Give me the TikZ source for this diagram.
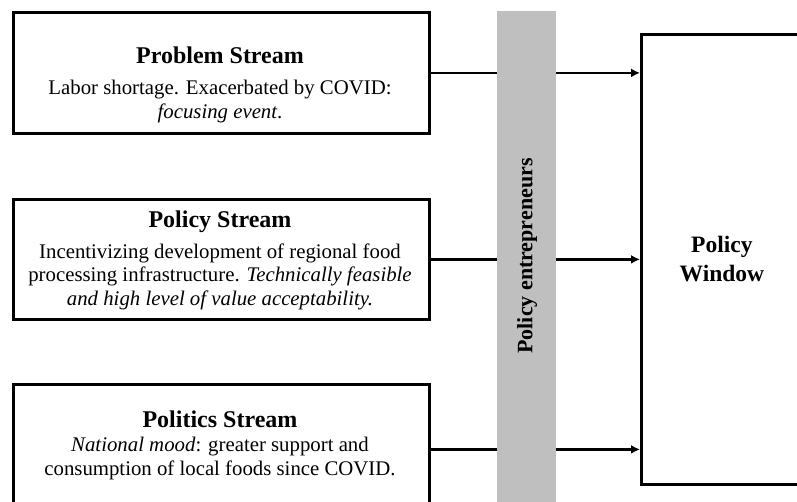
\documentclass[tikz,border=0pt]{standalone}
\usepackage{fontspec}
\setmainfont{Liberation Serif}
\usetikzlibrary{arrows.meta,positioning}

\begin{document}
\begin{tikzpicture}[
      x=1pt, y=-1pt,
      font=\fontsize{20.8}{23.5}\selectfont,
      stream/.style={draw, line width=2.8pt, minimum width=416pt,
                     minimum height=121pt, inner sep=0pt},
      head/.style={font=\fontsize{24}{26}\selectfont\bfseries,
                   anchor=base, inner sep=0pt},
      body/.style={align=center, anchor=base, inner sep=0pt},
      window/.style={draw, line width=2.8pt, minimum width=161pt,
                     minimum height=450pt, align=center, inner sep=0pt,
                     font=\fontsize{23.5}{29}\selectfont\bfseries},
      bar/.style={fill=black!25, minimum width=59pt, minimum height=510pt,
                  inner sep=0pt},
      arr/.style={-{Latex[length=9pt, width=9pt]}, line width=2.6pt}
    ]
    \useasboundingbox (0,0) rectangle (797,501);

    % the three streams
    \node[stream, anchor=north west] (prob) at (12,11) {};
    \node[stream, anchor=north west, minimum height=120pt] (pol) at (12,198) {};
    \node[stream, anchor=north west, minimum height=130pt] (polit) at (12,383) {};

    % base anchor = last line of the text
    \node[head] (probhd) at (220,63) {Problem Stream};
    \node[body] (probtx) at (220,118) {Labor shortage. Exacerbated by COVID:\\
      \textit{focusing event}.};
    \node[head] (polhd) at (220,227) {Policy Stream};
    \node[body] (poltx) at (220,305) {Incentivizing development of regional food\\
      processing infrastructure. \textit{Technically feasible}\\
      \textit{and high level of value acceptability.}};
    \node[head] (polithd) at (220,427) {Politics Stream};
    \node[body] (polittx) at (220,475) {\textit{National mood}: greater support and\\
      consumption of local foods since COVID.};

    % right edge of the window falls just off the page
    \node[window, anchor=north west] (win) at (640,33) {Policy\\ Window};

    \foreach \s in {prob, pol, polit}
      \draw[arr] (\s.east) -- (\s.east -| win.west);

    % entrepreneurs sit on top of the arrows
    \node[bar, anchor=north west] (ent) at (497,11) {};
    \node[rotate=90, font=\fontsize{22}{24}\selectfont\bfseries]
      (enttx) at (527,256) {Policy entrepreneurs};
  \end{tikzpicture}
\end{document}
